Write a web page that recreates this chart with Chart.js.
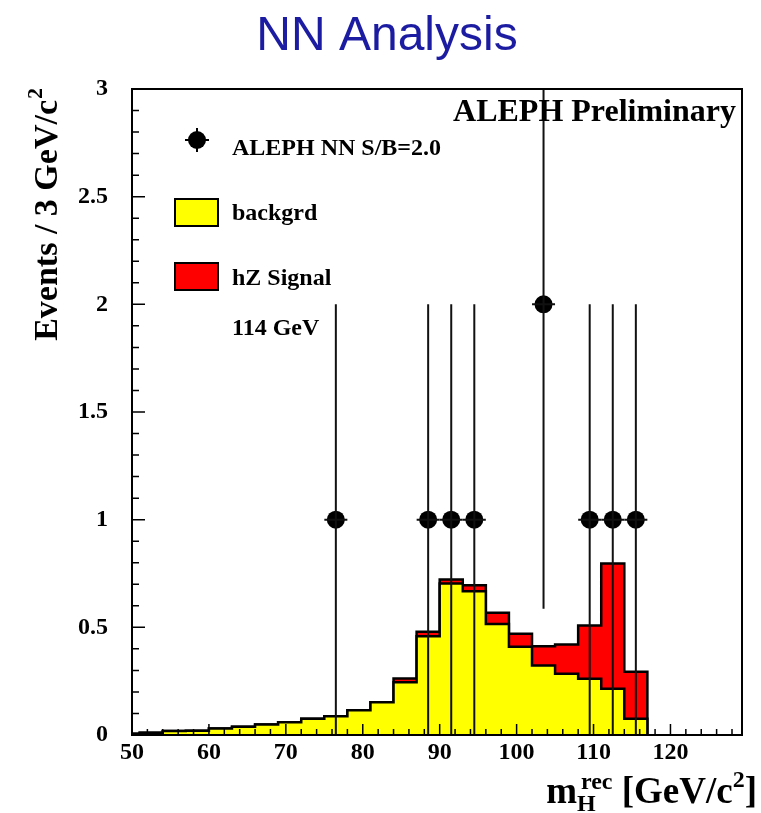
<!DOCTYPE html>
<html>
<head>
<meta charset="utf-8">
<title>NN Analysis</title>
<script src="https://cdn.jsdelivr.net/npm/chart.js@4.4.1/dist/chart.umd.min.js"></script>
<style>
  html, body { margin: 0; padding: 0; background: #fff; }
</style>
</head>
<body>
<canvas id="nn-chart" width="761" height="813"></canvas>
<script>
// 3 GeV bins, low edges (the last bin closes at 117)
var binLow = [48, 51, 54, 57, 60, 63, 66, 69, 72, 75, 78, 81, 84, 87, 90, 93, 96, 99, 102, 105, 108, 111, 114];
var binWidth = 3;
var backgrd = [0.006, 0.010, 0.018, 0.020, 0.030, 0.038, 0.049, 0.059, 0.075, 0.087, 0.115, 0.152,
               0.245, 0.459, 0.704, 0.668, 0.516, 0.410, 0.323, 0.284, 0.261, 0.215, 0.075];
var hzSignal = [0, 0, 0, 0, 0, 0, 0, 0, 0, 0, 0, 0,
                0.017, 0.020, 0.018, 0.028, 0.052, 0.060, 0.089, 0.136, 0.248, 0.582, 0.219];

// selected candidates, one entry per occupied bin
var dataMass = [76.5, 88.5, 91.5, 94.5, 103.5, 109.5, 112.5, 115.5];
var dataEvents = [1, 1, 1, 1, 2, 1, 1, 1];

var xTicks = [50, 60, 70, 80, 90, 100, 110, 120];
var yTicks = [0, 0.5, 1, 1.5, 2, 2.5, 3];

var SERIF = '"Liberation Serif", "Times New Roman", serif';

function stepPoints(values) {
  var pts = binLow.map(function (lo, i) { return { x: lo, y: values[i] }; });
  pts.push({ x: binLow[binLow.length - 1] + binWidth, y: 0 });
  return pts;
}

var total = backgrd.map(function (b, i) { return b + hzSignal[i]; });

// axis frame with inward ticks, error bars, texts and legend
var rootStyle = {
  id: 'rootStyle',
  afterDatasetsDraw: function (chart) {
    var ctx = chart.ctx, a = chart.chartArea;
    var xs = chart.scales.x, ys = chart.scales.y;
    ctx.save();

    // error bars on the data points
    ctx.save();
    ctx.beginPath();
    ctx.rect(a.left, a.top, a.right - a.left, a.bottom - a.top);
    ctx.clip();
    ctx.strokeStyle = '#111';
    ctx.lineWidth = 2;
    dataMass.forEach(function (m, i) {
      var n = dataEvents[i], err = Math.sqrt(n);
      var px = xs.getPixelForValue(m);
      ctx.beginPath();
      ctx.moveTo(px, ys.getPixelForValue(n - err));
      ctx.lineTo(px, ys.getPixelForValue(n + err));
      ctx.moveTo(px - 11.5, ys.getPixelForValue(n));
      ctx.lineTo(px + 11.5, ys.getPixelForValue(n));
      ctx.stroke();
    });
    ctx.restore();

    // frame
    ctx.strokeStyle = '#000';
    ctx.lineWidth = 2;
    ctx.strokeRect(a.left, a.top, a.right - a.left, a.bottom - a.top);

    // x ticks: major every 10, minor every 2
    ctx.lineWidth = 1.5;
    ctx.beginPath();
    for (var i = 0; 50 + 2 * i <= xs.max; i++) {
      var v = 50 + 2 * i, px = xs.getPixelForValue(v);
      var len = (i % 5 === 0) ? 11 : 6;
      ctx.moveTo(px, a.bottom);
      ctx.lineTo(px, a.bottom - len);
    }
    // y ticks: major every 0.5, minor every 0.1
    for (var j = 0; j <= 30; j++) {
      var py = ys.getPixelForValue(j / 10);
      var ylen = (j % 5 === 0) ? 13 : 7;
      ctx.moveTo(a.left, py);
      ctx.lineTo(a.left + ylen, py);
    }
    ctx.stroke();

    ctx.fillStyle = '#000';
    ctx.textBaseline = 'alphabetic';

    // title
    ctx.font = '48px "Liberation Sans", Arial, sans-serif';
    ctx.fillStyle = '#1c1ca2';
    ctx.textAlign = 'center';
    ctx.fillText('NN Analysis', 387, 50);

    ctx.fillStyle = '#000';
    ctx.font = 'bold 32px ' + SERIF;
    ctx.textAlign = 'right';
    ctx.fillText('ALEPH Preliminary', 736, 121);

    // legend
    ctx.textAlign = 'left';
    ctx.font = 'bold 24px ' + SERIF;
    ctx.beginPath();
    ctx.arc(197, 140, 9, 0, Math.PI * 2);
    ctx.fill();
    ctx.lineWidth = 2;
    ctx.beginPath();
    ctx.moveTo(185, 140); ctx.lineTo(209, 140);
    ctx.moveTo(197, 128); ctx.lineTo(197, 152);
    ctx.stroke();
    ctx.fillText('ALEPH NN S/B=2.0', 232, 155);

    ctx.fillStyle = chart.data.datasets[1].backgroundColor;
    ctx.fillRect(175, 199, 43, 27);
    ctx.strokeRect(175, 199, 43, 27);
    ctx.fillStyle = '#000';
    ctx.fillText('backgrd', 232, 220);

    ctx.fillStyle = chart.data.datasets[2].backgroundColor;
    ctx.fillRect(175, 263, 43, 27);
    ctx.strokeRect(175, 263, 43, 27);
    ctx.fillStyle = '#000';
    ctx.fillText('hZ Signal', 232, 285);
    ctx.fillText('114 GeV', 232, 335);

    // y axis title, reading upwards, ending at the frame top
    var yMain = 'Events / 3 GeV/c', ySup = '2';
    ctx.font = 'bold 34px ' + SERIF;
    var w1 = ctx.measureText(yMain).width;
    ctx.font = 'bold 22px ' + SERIF;
    var w2 = ctx.measureText(ySup).width;
    ctx.save();
    ctx.translate(57, a.top + w1 + w2);
    ctx.rotate(-Math.PI / 2);
    ctx.font = 'bold 34px ' + SERIF;
    ctx.fillText(yMain, 0, 0);
    ctx.font = 'bold 22px ' + SERIF;
    ctx.fillText(ySup, w1 + 1, -15);
    ctx.restore();

    // x axis title, right aligned under the axis
    var big = 'bold 37px ' + SERIF, small = 'bold 24px ' + SERIF;
    ctx.font = big;
    var wm = ctx.measureText('m').width;
    var wu = ctx.measureText(' [GeV/c').width;
    var wb = ctx.measureText(']').width;
    ctx.font = small;
    var wH = ctx.measureText('H').width;
    var wr = ctx.measureText('rec').width;
    var w2x = ctx.measureText('2').width;
    var idx = Math.max(wH, wr + 4);
    var xt = 757 - (wm + idx + wu + w2x + wb);
    var bl = 803;
    ctx.font = big;
    ctx.fillText('m', xt, bl);
    ctx.font = small;
    ctx.fillText('H', xt + wm, bl + 8);
    ctx.fillText('rec', xt + wm + 4, bl - 14);
    ctx.font = big;
    ctx.fillText(' [GeV/c', xt + wm + idx, bl);
    ctx.font = small;
    ctx.fillText('2', xt + wm + idx + wu, bl - 16);
    ctx.font = big;
    ctx.fillText(']', xt + wm + idx + wu + w2x, bl);

    ctx.restore();
  }
};

var ctx = document.getElementById('nn-chart');
var chart = new Chart(ctx, {
  type: 'line',
  data: {
    datasets: [
      {
        label: 'ALEPH NN S/B=2.0',
        data: dataMass.map(function (m, i) { return { x: m, y: dataEvents[i] }; }),
        showLine: false,
        pointRadius: 9,
        pointBorderWidth: 0,
        pointBackgroundColor: '#000',
        order: 0,
        clip: false
      },
      {
        label: 'backgrd',
        data: stepPoints(backgrd),
        stepped: 'before',
        fill: 'origin',
        backgroundColor: '#ffff00',
        borderColor: '#000',
        borderWidth: 2.5,
        pointRadius: 0,
        order: 1,
        clip: 0
      },
      {
        label: 'hZ Signal',
        data: stepPoints(total),
        stepped: 'before',
        fill: 'origin',
        backgroundColor: '#ff0000',
        borderColor: '#000',
        borderWidth: 2.5,
        pointRadius: 0,
        order: 2,
        clip: 0
      }
    ]
  },
  options: {
    responsive: false,
    animation: false,
    events: [],
    layout: { padding: { top: 89, right: 19, left: 0, bottom: 0 } },
    plugins: {
      legend: { display: false },
      tooltip: { enabled: false },
      title: { display: false }
    },
    scales: {
      x: {
        type: 'linear',
        min: 50,
        max: 129.3,
        grid: { display: false, drawTicks: false },
        border: { display: false },
        afterBuildTicks: function (s) { s.ticks = xTicks.map(function (v) { return { value: v }; }); },
        afterFit: function (s) { s.height = 78; },
        ticks: {
          maxRotation: 0,
          autoSkip: false,
          padding: 3,
          color: '#000',
          font: { family: SERIF, size: 24, weight: 'bold' },
          callback: function (v) { return String(v); }
        }
      },
      y: {
        min: 0,
        max: 3,
        grid: { display: false, drawTicks: false },
        border: { display: false },
        afterBuildTicks: function (s) { s.ticks = yTicks.map(function (v) { return { value: v }; }); },
        afterFit: function (s) { s.width = 132; },
        ticks: {
          padding: 24,
          color: '#000',
          font: { family: SERIF, size: 24, weight: 'bold' },
          callback: function (v) { return String(v); }
        }
      }
    }
  },
  plugins: [rootStyle]
});
</script>
</body>
</html>
